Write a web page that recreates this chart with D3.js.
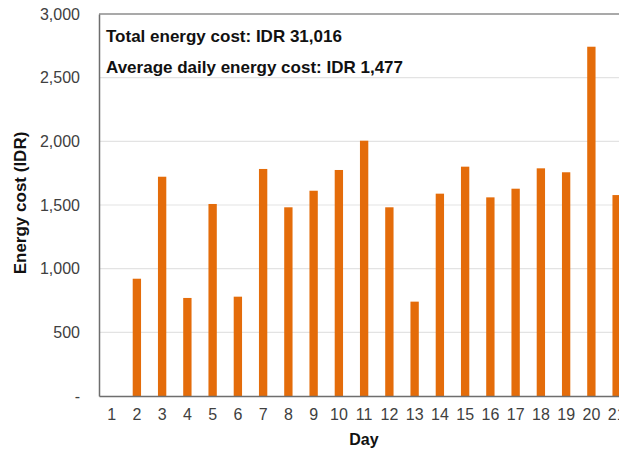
<!DOCTYPE html>
<html>
<head>
<meta charset="utf-8">
<script src="https://cdn.jsdelivr.net/npm/d3@7"></script>
<style>
  html, body { margin: 0; padding: 0; background: #fff; overflow: hidden; }
  svg { display: block; font-family: "Liberation Sans", Arial, sans-serif; }
</style>
</head>
<body>
<svg id="chart" width="619" height="450"></svg>
<script>
const days = ["1","2","3","4","5","6","7","8","9","10","11","12","13","14","15","16","17","18","19","20","21"];
const costs = [0, 921, 1722, 770, 1508, 780, 1783, 1482, 1612, 1775, 2005, 1482, 741, 1589, 1801, 1560, 1628, 1788, 1757, 2743, 1578];
const yTicks = [0, 500, 1000, 1500, 2000, 2500, 3000];
const yTickLabels = ["-", "500", "1,000", "1,500", "2,000", "2,500", "3,000"];
const notes = ["Total energy cost: IDR 31,016", "Average daily energy cost: IDR 1,477"];
const xTitle = "Day";
const yTitle = "Energy cost (IDR)";

const svg = d3.select("#chart");
const mLeft = 99, mTop = 14, mBottom = 396, step = 25.25;
const mRight = mLeft + step * days.length;

const x = d3.scaleBand().domain(days).range([mLeft, mRight]).paddingInner(0.67).paddingOuter(0.335);
const y = d3.scaleLinear().domain([0, 3000]).range([mBottom, mTop]);

// gridlines
svg.append("g").selectAll("line").data(yTicks.filter(t => t > 0 && t < 3000)).join("line")
  .attr("x1", mLeft).attr("x2", mRight)
  .attr("y1", d => y(d)).attr("y2", d => y(d))
  .attr("stroke", "#e3e3e3").attr("stroke-width", 1.2);

// top border
svg.append("line").attr("x1", mLeft).attr("x2", mRight).attr("y1", y(3000)).attr("y2", y(3000))
  .attr("stroke", "#8c8c8c").attr("stroke-width", 1.5);

// bars
svg.append("g").selectAll("rect").data(days).join("rect")
  .attr("x", d => x(d))
  .attr("width", x.bandwidth())
  .attr("y", (d, i) => y(costs[i]))
  .attr("height", (d, i) => y(0) - y(costs[i]))
  .attr("fill", "#E46C0A");

// y axis
const yAxis = d3.axisLeft(y).tickValues(yTicks).tickFormat((d, i) => yTickLabels[i]).tickSize(0).tickPadding(19);
const gy = svg.append("g").attr("transform", `translate(${mLeft},0)`).call(yAxis);
gy.select(".domain").attr("stroke", "#6e6e6e").attr("stroke-width", 1.5);
gy.selectAll("text").attr("font-size", 16).attr("fill", "#404040").attr("font-family", "Liberation Sans, Arial, sans-serif");

// x axis
const xAxis = d3.axisBottom(x).tickSize(0).tickPadding(13);
const gx = svg.append("g").attr("transform", `translate(0,${mBottom})`).call(xAxis);
gx.select(".domain").attr("stroke", "#6e6e6e").attr("stroke-width", 1.5);
gx.selectAll("text").attr("font-size", 16).attr("fill", "#404040").attr("font-family", "Liberation Sans, Arial, sans-serif");

// annotations
svg.append("g").selectAll("text").data(notes).join("text")
  .attr("x", 106).attr("y", (d, i) => 42 + i * 31)
  .attr("font-size", 17).attr("font-weight", "bold").attr("fill", "#111")
  .text(d => d);

// axis titles
svg.append("text").attr("x", 364).attr("y", 445)
  .attr("text-anchor", "middle").attr("font-size", 16).attr("font-weight", "bold").attr("fill", "#111")
  .text(xTitle);
svg.append("text").attr("transform", `translate(26,203) rotate(-90)`)
  .attr("text-anchor", "middle").attr("font-size", 17).attr("font-weight", "bold").attr("fill", "#111")
  .text(yTitle);
</script>
</body>
</html>
